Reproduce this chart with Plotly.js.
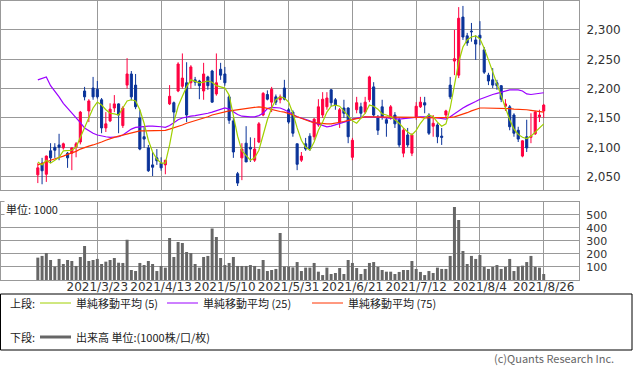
<!DOCTYPE html>
<html><head><meta charset="utf-8">
<script src="https://cdn.plot.ly/plotly-3.0.1.min.js"></script>
<style>html,body{margin:0;padding:0;background:#fff}#c{width:633px;height:372px}</style>
</head><body><div id="c"></div>
<script>
// ---- data ----
const tickLabels = ['2021/3/23','2021/4/13','2021/5/10','2021/5/31','2021/6/21','2021/7/12','2021/8/4','2021/8/26'];
const tickIndex = [14,29,44,59,74,89,104,119];
const openP = [2053,2073,2054,2094,2100,2104,2099,2090,2090,2100,
2109,2196,2162,2201,2199,2181,2133,2145,2167,2174,
2137,2206,2225,2206,2150,2118,2099,2070,2082,2073,
2070,2174,2176,2196,2204,2210,2210,2215,2213,2196,
2220,2230,2191,2233,2225,2186,2145,2055,2082,2107,
2100,2078,2109,2155,2190,2177,2186,2181,2201,2164,
2160,2106,2078,2106,2119,2118,2138,2155,2169,2198,
2181,2143,2167,2167,2083,2164,2169,2160,2181,2203,
2150,2169,2147,2152,2155,2147,2090,2121,2090,2152,
2169,2176,2155,2136,2138,2119,2155,2206,2247,2223,
2322,2290,2298,2283,2291,2266,2223,2215,2210,2205,
2170,2169,2155,2129,2085,2118,2117,2123,2152,2162];
const closeP = [2065,2060,2085,2082,2095,2100,2106,2082,2099,2106,
2160,2186,2179,2186,2186,2133,2140,2165,2174,2155,
2167,2225,2186,2169,2097,2114,2060,2066,2077,2065,
2078,2187,2160,2242,2218,2155,2237,2211,2205,2225,
2205,2177,2210,2223,2210,2146,2092,2039,2097,2075,
2097,2097,2140,2192,2182,2199,2177,2186,2182,2143,
2124,2071,2085,2097,2097,2148,2169,2182,2184,2176,
2172,2164,2158,2118,2112,2176,2158,2177,2220,2155,
2129,2152,2141,2169,2140,2104,2129,2104,2121,2170,
2177,2172,2124,2141,2118,2117,2162,2186,2251,2320,
2288,2278,2297,2276,2286,2228,2213,2206,2205,2182,
2174,2135,2124,2114,2111,2099,2119,2160,2155,2172];
const highP = [2073,2082,2086,2107,2107,2123,2108,2092,2100,2109,
2162,2203,2182,2220,2213,2184,2160,2175,2189,2175,
2170,2252,2230,2225,2164,2136,2104,2092,2097,2083,
2078,2206,2178,2245,2260,2245,2240,2220,2215,2244,
2222,2232,2260,2244,2237,2189,2150,2058,2107,2136,
2117,2116,2143,2194,2197,2203,2190,2190,2215,2167,
2163,2106,2092,2116,2124,2150,2182,2194,2194,2199,
2184,2167,2181,2168,2116,2186,2176,2186,2222,2211,
2155,2181,2150,2172,2160,2150,2133,2133,2124,2177,
2186,2186,2158,2155,2141,2133,2164,2220,2300,2339,
2341,2295,2312,2291,2315,2271,2227,2235,2215,2206,
2182,2172,2158,2135,2112,2147,2158,2162,2164,2174];
const lowP = [2039,2037,2041,2073,2082,2078,2096,2065,2061,2083,
2105,2180,2143,2181,2183,2124,2126,2143,2160,2124,
2133,2200,2180,2165,2095,2099,2058,2051,2070,2060,
2054,2172,2143,2194,2200,2143,2200,2205,2182,2181,
2198,2176,2188,2215,2205,2140,2082,2034,2044,2075,
2075,2075,2107,2153,2180,2160,2172,2175,2180,2140,
2118,2061,2075,2094,2094,2112,2135,2150,2164,2170,
2164,2133,2150,2107,2078,2158,2150,2157,2177,2152,
2121,2147,2118,2147,2133,2100,2083,2100,2085,2147,
2167,2158,2121,2118,2107,2104,2150,2182,2223,2218,
2283,2273,2280,2249,2274,2225,2206,2201,2198,2177,
2162,2129,2118,2109,2083,2092,2107,2121,2143,2150];
const ma5 = [2075,2070,2078,2073,2078,2083,2094,2094,2095,2100,
2116,2133,2150,2167,2177,2172,2164,2158,2157,2155,
2167,2179,2181,2179,2164,2141,2112,2092,2080,2073,
2073,2104,2143,2170,2187,2203,2215,2213,2210,2211,
2213,2211,2205,2203,2201,2189,2153,2119,2094,2085,
2078,2082,2095,2121,2147,2167,2181,2186,2184,2177,
2158,2133,2112,2100,2095,2109,2129,2143,2160,2170,
2172,2170,2162,2153,2145,2141,2150,2158,2172,2170,
2165,2157,2155,2152,2147,2141,2133,2126,2121,2129,
2141,2150,2155,2152,2143,2136,2140,2167,2206,2245,
2271,2283,2288,2290,2285,2269,2249,2228,2208,2187,
2167,2147,2131,2122,2117,2115,2119,2126,2133,2140];
const ma25 = [2215,2217,2220,2205,2196,2186,2175,2167,2158,2150,
2142,2133,2128,2124,2121,2119,2118,2117,2117,2118,
2121,2126,2131,2134,2135,2136,2136,2136,2136,2135,
2134,2137,2142,2147,2150,2152,2153,2154,2155,2157,
2158,2160,2162,2164,2167,2165,2160,2156,2153,2152,
2152,2152,2154,2158,2166,2168,2168,2167,2164,2160,
2155,2152,2150,2148,2145,2142,2140,2138,2135,2136,
2138,2140,2143,2145,2148,2150,2151,2152,2152,2152,
2152,2151,2150,2149,2148,2148,2149,2150,2151,2152,
2152,2152,2152,2151,2150,2149,2148,2152,2157,2163,
2167,2171,2174,2178,2182,2185,2188,2190,2192,2194,
2196,2198,2198,2198,2196,2191,2190,2191,2192,2193];
const ma75 = [2070,2072,2075,2078,2080,2083,2085,2088,2090,2093,
2097,2100,2102,2104,2106,2109,2112,2115,2117,2119,
2121,2123,2125,2127,2128,2128,2128,2128,2128,2128,
2129,2131,2133,2135,2138,2141,2143,2145,2147,2149,
2152,2155,2157,2159,2161,2162,2163,2164,2165,2166,
2168,2169,2169,2168,2166,2164,2162,2161,2160,2158,
2155,2152,2149,2146,2144,2142,2141,2140,2140,2140,
2141,2143,2144,2146,2148,2149,2150,2152,2152,2152,
2152,2152,2152,2152,2152,2152,2152,2151,2151,2151,
2151,2150,2150,2150,2150,2150,2150,2151,2152,2154,
2157,2159,2162,2165,2167,2167,2167,2167,2167,2167,
2166,2166,2165,2165,2165,2164,2163,2162,2161,2160];
const volume = [172,185,208,154,103,162,123,154,146,108,
177,262,146,154,162,123,141,154,169,133,
131,310,77,69,131,115,146,123,69,108,
95,323,177,292,285,215,208,123,95,177,
185,395,331,169,115,131,177,108,108,108,
115,108,85,154,69,77,85,362,103,103,
97,138,69,95,95,131,64,38,95,46,
54,92,46,154,131,92,46,85,131,138,
100,77,64,64,46,62,77,77,146,85,
62,38,69,54,95,85,85,185,562,462,
223,123,185,162,192,100,85,100,115,85,
100,162,69,103,110,138,185,100,95,46];
const priceTicks = [2050,2100,2150,2200,2250,2300];
const volTicks = [100,200,300,400,500];

// ---- chart ----
const idx = openP.map((_, i) => i);
const FONT = 'DejaVu Sans, Verdana, sans-serif';
const JP = 'Noto Sans CJK JP, sans-serif';
// pixel -> paper helpers (plot area: x 1..579, y 1..280)
const PX = px => (px - 1) / 578;
const PY = py => (280 - py) / 279;

const traces = [
  {type:'candlestick', x: idx, open: openP, high: highP, low: lowP, close: closeP,
   xaxis:'x', yaxis:'y', whiskerwidth: 0,
   increasing:{line:{color:'#ff0040', width:1}, fillcolor:'#ff0040'},
   decreasing:{line:{color:'#0a3399', width:1}, fillcolor:'#0a3399'},
   hoverinfo:'skip', showlegend:false},
  {type:'scatter', mode:'lines', x: idx, y: ma25, xaxis:'x', yaxis:'y',
   line:{color:'#9b00ff', width:1.2}, hoverinfo:'skip', showlegend:false},
  {type:'scatter', mode:'lines', x: idx, y: ma75, xaxis:'x', yaxis:'y',
   line:{color:'#ff3300', width:1.2}, hoverinfo:'skip', showlegend:false},
  {type:'scatter', mode:'lines', x: idx, y: ma5, xaxis:'x', yaxis:'y',
   line:{color:'#a0d000', width:1.2}, hoverinfo:'skip', showlegend:false},
  {type:'bar', x: idx, y: volume, xaxis:'x2', yaxis:'y2', width: 0.7,
   marker:{color:'#666666', line:{width:0}}, hoverinfo:'skip', showlegend:false}
];

const xr = [-8.66, 127.3];
const gridC = '#999999';
const layout = {
  width: 633, height: 372,
  margin: {l:1, r:54, t:1, b:92, pad:0},
  paper_bgcolor:'#ffffff', plot_bgcolor:'#ffffff',
  showlegend:false, boxgap: 0.3,
  font:{family: FONT, size: 12, color:'#333'},
  xaxis: {domain:[0,1], anchor:'y', range: xr, tickvals: tickIndex, ticktext: tickLabels,
    showticklabels:false, ticks:'', showgrid:true, gridcolor:gridC, gridwidth:1,
    showline:true, linecolor:gridC, linewidth:1, mirror:true, zeroline:false,
    rangeslider:{visible:false}, fixedrange:true},
  yaxis: {domain:[PY(190),1], anchor:'x', side:'right', range:[2027.2, 2349.4],
    tickvals: priceTicks, tickformat:',d', ticks:'', ticklabelstandoff:4,
    showgrid:true, gridcolor:gridC, gridwidth:1, zeroline:false,
    showline:true, linecolor:gridC, linewidth:1, mirror:true,
    tickfont:{family:FONT, size:12, color:'#333'}},
  xaxis2: {domain:[0,1], anchor:'y2', range: xr, tickvals: tickIndex, ticktext: tickLabels,
    showticklabels:true, ticks:'', ticklabelstandoff:-4, showgrid:true, gridcolor:gridC, gridwidth:1,
    showline:true, linecolor:gridC, linewidth:1, mirror:true, zeroline:false,
    tickfont:{family:FONT, size:12, color:'#333'}, fixedrange:true},
  yaxis2: {domain:[0, PY(201.7)], anchor:'x2', side:'right', range:[0, 602],
    tickvals: volTicks, ticks:'', ticklabelstandoff:4,
    showgrid:true, gridcolor:gridC, gridwidth:1, zeroline:false,
    showline:true, linecolor:gridC, linewidth:1, mirror:true,
    tickfont:{family:FONT, size:11, color:'#333'}},
  shapes: [
    {type:'rect', xref:'paper', yref:'paper', x0:PX(0.5), x1:PX(632), y0:PY(294), y1:PY(350),
     line:{color:'#000', width:1}, fillcolor:'rgba(0,0,0,0)'},
    {type:'line', xref:'paper', yref:'paper', x0:PX(40), x1:PX(71), y0:PY(303), y1:PY(303), line:{color:'#a0d000', width:1}},
    {type:'line', xref:'paper', yref:'paper', x0:PX(167), x1:PX(198), y0:PY(303), y1:PY(303), line:{color:'#9b00ff', width:1}},
    {type:'line', xref:'paper', yref:'paper', x0:PX(312), x1:PX(343), y0:PY(303), y1:PY(303), line:{color:'#ff3300', width:1}},
    {type:'line', xref:'paper', yref:'paper', x0:PX(40), x1:PX(71), y0:PY(337), y1:PY(337), line:{color:'#666', width:3}}
  ],
  annotations: [
    {text:'単位: 1000', xref:'paper', yref:'paper', x:PX(4), y:PY(209), xanchor:'left', yanchor:'middle',
     showarrow:false, bgcolor:'#ffffff', borderpad:1, font:{family:JP, size:11, color:'#222'}},
    {text:'上段:', xref:'paper', yref:'paper', x:PX(8), y:PY(303), xanchor:'left', yanchor:'middle', showarrow:false, font:{family:JP, size:11, color:'#222'}},
    {text:'単純移動平均 (5)', xref:'paper', yref:'paper', x:PX(74), y:PY(303), xanchor:'left', yanchor:'middle', showarrow:false, font:{family:JP, size:11, color:'#222'}},
    {text:'単純移動平均 (25)', xref:'paper', yref:'paper', x:PX(201), y:PY(303), xanchor:'left', yanchor:'middle', showarrow:false, font:{family:JP, size:11, color:'#222'}},
    {text:'単純移動平均 (75)', xref:'paper', yref:'paper', x:PX(346), y:PY(303), xanchor:'left', yanchor:'middle', showarrow:false, font:{family:JP, size:11, color:'#222'}},
    {text:'下段:', xref:'paper', yref:'paper', x:PX(8), y:PY(337), xanchor:'left', yanchor:'middle', showarrow:false, font:{family:JP, size:11, color:'#222'}},
    {text:'出来高 単位:(1000株/口/枚)', xref:'paper', yref:'paper', x:PX(74), y:PY(337), xanchor:'left', yanchor:'middle', showarrow:false, font:{family:JP, size:11, color:'#222'}},
    {text:'(c)Quants Research Inc.', xref:'paper', yref:'paper', x:PX(616), y:PY(358), xanchor:'right', yanchor:'middle', showarrow:false, font:{family:JP, size:11, color:'#666'}}
  ]
};
Plotly.newPlot('c', traces, layout, {displayModeBar:false, staticPlot:true});
</script></body></html>
